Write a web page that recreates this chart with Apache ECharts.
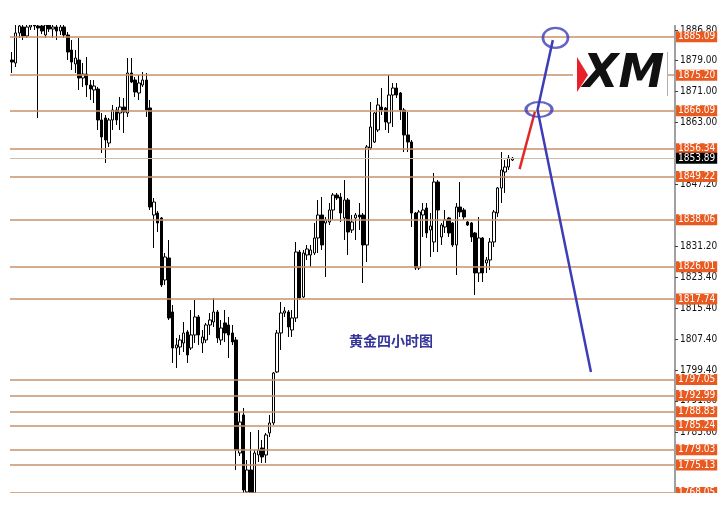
<!DOCTYPE html>
<html><head><meta charset="utf-8">
<script src="https://cdn.jsdelivr.net/npm/echarts@6/dist/echarts.min.js"></script>
<style>html,body{margin:0;padding:0;background:#fff}#c{width:725px;height:513px}</style>
</head><body><div id="c"></div>
<script>
// ---- data (4-hour gold candles) ----
const openPrices = [1879.10,1878.33,1886.03,1887.57,1885.26,1887.57,1888.08,1887.83,1887.83,1885.52,
1888.08,1887.06,1887.57,1886.54,1887.57,1885.52,1881.66,1878.07,1879.10,1874.48,
1875.50,1872.68,1871.40,1871.65,1863.70,1864.21,1857.79,1863.70,1866.26,1865.49,
1867.03,1865.49,1875.76,1873.96,1870.63,1872.68,1873.96,1866.78,1839.31,1839.82,
1838.54,1822.62,1828.27,1814.41,1805.17,1805.42,1806.45,1809.28,1805.17,1808.51,
1813.13,1806.45,1807.22,1811.07,1811.84,1814.41,1807.22,1811.59,1811.07,1809.02,
1807.22,1778.21,1787.97,1768.20,1773.85,1767.94,1777.70,1779.50,1777.70,1783.35,
1785.92,1799.01,1809.02,1814.15,1814.41,1809.79,1812.87,1829.81,1818.26,1829.04,
1829.04,1829.55,1833.41,1839.31,1837.26,1837.51,1840.59,1844.44,1843.93,1838.54,
1843.16,1835.46,1838.54,1839.31,1839.31,1831.61,1856.51,1858.05,1861.13,1867.03,
1866.78,1862.93,1870.11,1871.91,1870.63,1866.26,1859.85,1858.05,1839.82,1825.70,
1839.31,1841.11,1835.46,1832.38,1847.78,1833.66,1836.23,1838.54,1837.26,1831.61,
1841.36,1840.59,1837.51,1837.26,1834.69,1824.42,1833.41,1826.99,1827.76,1832.38,
1839.82,1846.24,1850.35,1851.63,1853.43];
const closePrices = [1878.58,1886.03,1887.83,1885.26,1887.57,1888.08,1887.83,1887.31,1886.54,1888.08,
1887.06,1887.57,1886.54,1887.57,1885.52,1881.15,1878.58,1879.61,1874.48,1875.50,
1872.68,1871.65,1872.42,1863.70,1859.33,1858.56,1863.70,1866.26,1863.70,1867.03,
1865.75,1875.76,1873.45,1870.88,1873.19,1873.96,1866.26,1841.36,1842.64,1837.26,
1821.34,1828.53,1812.87,1805.17,1805.94,1807.22,1809.02,1803.37,1808.51,1813.13,
1808.51,1807.99,1811.07,1812.36,1814.41,1807.74,1810.30,1809.02,1808.51,1806.71,
1778.98,1786.17,1768.72,1773.85,1767.94,1778.21,1778.98,1777.19,1782.84,1785.92,
1798.75,1809.02,1814.15,1814.67,1810.56,1812.87,1829.81,1818.00,1829.55,1830.58,
1830.32,1833.41,1839.31,1831.61,1838.03,1840.59,1844.44,1843.67,1839.82,1843.16,
1834.95,1837.51,1839.31,1838.80,1831.61,1856.77,1861.90,1865.49,1867.55,1866.26,
1863.18,1870.11,1871.91,1870.11,1866.26,1859.85,1858.05,1839.82,1825.70,1840.08,
1840.59,1834.69,1836.49,1847.78,1840.59,1836.74,1838.03,1834.69,1831.61,1841.36,
1840.08,1838.80,1836.74,1833.66,1824.42,1833.41,1824.42,1827.76,1832.38,1840.08,
1846.24,1850.86,1851.63,1853.94,1853.89];
const lowPrices = [1875.76,1877.30,1884.75,1884.23,1884.75,1886.80,1886.80,1864.21,1885.77,1884.75,
1886.29,1884.75,1884.23,1885.52,1884.75,1879.10,1876.53,1875.76,1871.40,1872.17,
1869.60,1868.83,1868.06,1861.13,1855.22,1852.66,1856.77,1861.13,1862.41,1861.13,
1860.36,1864.47,1873.19,1869.60,1868.83,1872.17,1864.47,1840.59,1830.84,1834.95,
1820.83,1821.34,1812.36,1801.32,1800.03,1803.37,1804.14,1801.32,1804.65,1806.45,
1805.94,1803.88,1806.45,1808.51,1810.56,1806.45,1805.94,1806.71,1802.60,1805.94,
1773.85,1777.44,1767.43,1767.43,1767.17,1767.17,1775.90,1775.65,1775.65,1782.32,
1785.40,1798.75,1804.65,1813.13,1807.99,1807.99,1811.84,1817.49,1818.00,1827.76,
1825.96,1829.04,1829.55,1830.32,1823.39,1836.74,1838.03,1843.16,1837.51,1832.89,
1829.04,1834.69,1832.89,1835.46,1821.85,1827.24,1855.99,1857.79,1860.62,1864.98,
1861.13,1860.36,1861.90,1869.34,1863.70,1855.48,1855.48,1836.23,1825.19,1825.19,
1833.66,1833.41,1828.53,1829.81,1829.81,1831.61,1834.69,1833.66,1831.10,1823.91,
1838.80,1838.03,1836.49,1832.38,1818.77,1822.11,1822.11,1824.42,1825.19,1831.10,
1838.80,1842.39,1844.96,1850.86,1853.17];
const highPrices = [1881.15,1888.34,1889.88,1889.37,1889.88,1890.39,1890.39,1889.88,1889.88,1889.88,
1889.88,1889.37,1889.88,1889.37,1889.88,1886.29,1884.23,1881.66,1884.75,1878.33,
1879.87,1873.96,1873.96,1872.17,1865.49,1864.98,1864.21,1867.55,1867.03,1869.60,
1869.34,1879.61,1879.61,1874.73,1875.25,1876.02,1875.76,1868.83,1843.67,1840.34,
1838.80,1829.55,1832.89,1816.21,1807.74,1808.51,1811.84,1809.79,1814.92,1817.49,
1813.64,1809.79,1811.59,1814.15,1818.00,1814.92,1812.36,1814.92,1813.13,1811.07,
1807.99,1788.74,1789.77,1776.42,1783.61,1778.98,1784.12,1781.55,1783.35,1787.97,
1799.01,1809.79,1816.98,1815.69,1814.92,1814.92,1832.38,1830.32,1830.32,1831.61,
1831.61,1837.26,1843.16,1843.93,1838.80,1842.39,1844.96,1844.96,1844.96,1848.29,
1843.67,1839.31,1839.82,1842.39,1839.82,1857.28,1868.32,1865.75,1869.34,1871.91,
1867.03,1875.25,1873.19,1873.19,1870.88,1866.78,1865.75,1858.56,1840.08,1840.59,
1842.39,1842.39,1839.82,1850.09,1848.29,1837.26,1840.59,1838.80,1837.51,1842.39,
1847.78,1841.11,1837.77,1837.51,1834.95,1838.80,1833.66,1828.53,1833.41,1840.59,
1846.50,1855.48,1853.43,1854.71,1854.20];

const priceLevels = [1885.09,1875.20,1866.09,1856.34,1849.22,1838.06,1826.01,1817.74,
1797.05,1792.99,1788.83,1785.24,1779.03,1775.13,1768.05];
const currentPrice = 1853.89;
const axisTickValues = [1886.80,1879.00,1871.00,1863.00,1847.20,1831.20,1823.40,1815.40,
1807.40,1799.40,1791.60,1783.60];

// hand-drawn projections, in [bar position, price]
const redTrend = [[136.4,1851.1],[140.5,1865.8]];
const blueTrend = [[145.3,1884.2],[141.2,1866.3],[155.5,1799.0]];
const targetCircles = [[146.0,1884.8],[141.6,1866.4]];
const circleSizes = [[25,20],[26,15]];

const chartTitle = '黄金四小时图';
const slotCount = 178;
const categories = Array.from({length: slotCount}, (_, i) => String(i));
const candles = openPrices.map((o, i) => [o, closePrices[i], lowPrices[i], highPrices[i]]);

const LABEL_FONT = "'Liberation Sans Narrow','DejaVu Sans Condensed','Liberation Sans',sans-serif";
const levelLineData = priceLevels.map(v => ({ yAxis: v }));
levelLineData.push({
  yAxis: currentPrice,
  lineStyle: { color: '#cbbcae', width: 1, type: 'solid' },
  label: { backgroundColor: '#000000', color: '#ffffff' }
});

const chart = echarts.init(document.getElementById('c'), null, { renderer: 'canvas' });
chart.setOption({
  animation: false,
  backgroundColor: '#ffffff',
  grid: { left: 10, right: 50, top: 24, bottom: 20 },
  xAxis: [
    { type: 'category', data: categories, boundaryGap: true, show: false },
    { type: 'value', min: 0, max: slotCount, show: false }
  ],
  yAxis: {
    type: 'value', position: 'right', min: 1767.94, max: 1888.34,
    axisLine: { show: true, onZero: false, lineStyle: { color: '#808080', width: 1.5 } },
    axisTick: { show: true, length: 3, lineStyle: { color: '#404040' }, customValues: axisTickValues },
    axisLabel: { show: true, customValues: axisTickValues, formatter: v => Number(v).toFixed(2),
      color: '#111', fontSize: 10, fontFamily: LABEL_FONT, margin: 5 },
    splitLine: { show: false }
  },
  series: [
    {
      type: 'candlestick', data: candles, barWidth: 3,
      itemStyle: { color: '#ffffff', color0: '#000000', borderColor: '#000000', borderColor0: '#000000', borderWidth: 1 },
      markLine: {
        silent: true, symbol: ['none', 'none'], animation: false,
        lineStyle: { color: '#c8906a', width: 1.5, type: 'solid' },
        label: { show: true, position: 'end', distance: 1, formatter: p => Number(p.value).toFixed(2),
          color: '#ffffff', backgroundColor: '#e95a20', padding: [1, 2, 0, 2],
          fontSize: 10, lineHeight: 10, fontFamily: LABEL_FONT },
        emphasis: { disabled: true },
        data: levelLineData
      }
    },
    {
      type: 'line', xAxisIndex: 1, data: redTrend, showSymbol: false, symbol: 'none', z: 5,
      lineStyle: { color: '#e02a2a', width: 2.5 }
    },
    {
      type: 'line', xAxisIndex: 1, data: blueTrend, showSymbol: false, symbol: 'none', z: 5,
      lineStyle: { color: '#3d3db8', width: 2.5 }
    },
    {
      type: 'scatter', xAxisIndex: 1, z: 6,
      data: targetCircles.map((p, i) => ({ value: p, symbolSize: circleSizes[i] })),
      symbol: 'circle',
      itemStyle: { color: 'rgba(255,255,255,0)', borderColor: '#3d3db8', borderWidth: 2.5 }
    }
  ],
  graphic: [
    { type: 'rect', z: 100, shape: { x: 0, y: 0, width: 725, height: 25 }, style: { fill: '#ffffff' } },
    { type: 'rect', z: 100, shape: { x: 0, y: 493, width: 725, height: 20 }, style: { fill: '#ffffff' } },
    { type: 'rect', z: 100, shape: { x: 573, y: 52, width: 94, height: 44 }, style: { fill: '#ffffff' } },
    { type: 'line', z: 101, shape: { x1: 667.5, y1: 52, x2: 667.5, y2: 96 }, style: { stroke: '#b0b0b0', lineWidth: 1 } },
    { type: 'polygon', z: 101, shape: { points: [[577, 57], [588, 75], [577, 92]] }, style: { fill: '#e8202a' } },
    { type: 'text', z: 101, x: 583, y: 75,
      style: { text: 'XM', font: 'italic 900 46px "DejaVu Sans"', fill: '#111111', verticalAlign: 'middle', align: 'left' } },
    { type: 'text', z: 101, x: 391, y: 341,
      style: { text: chartTitle, font: 'bold 14px "Noto Sans CJK SC"', fill: '#34349a', align: 'center', verticalAlign: 'middle' } }
  ]
});
</script>
</body></html>
